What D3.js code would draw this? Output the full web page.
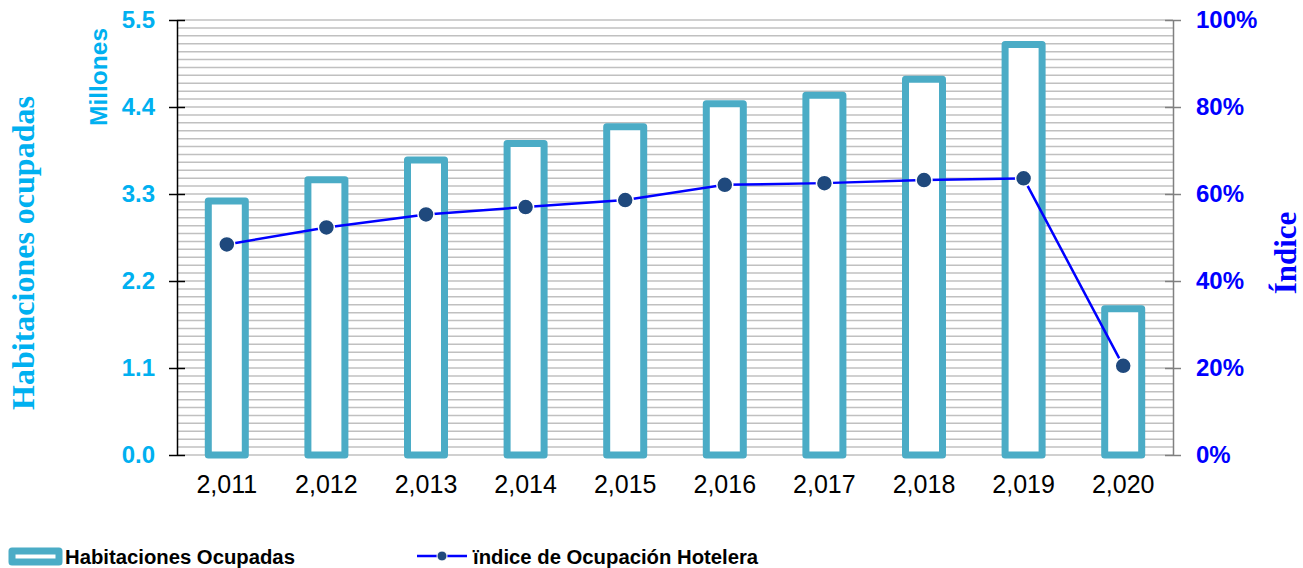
<!DOCTYPE html>
<html>
<head>
<meta charset="utf-8">
<script src="https://cdn.jsdelivr.net/npm/d3@7"></script>
<style>
	body { margin: 0; background: #fff; }
	svg { display: block; font-family: 'Liberation Sans', Arial, sans-serif; }
</style>
</head>
<body>
<svg id="chart"></svg>
<script>
const width = 1303, height = 568;

// values
const years = [2011, 2012, 2013, 2014, 2015, 2016, 2017, 2018, 2019, 2020];
const habitaciones = [3.21, 3.48, 3.73, 3.94, 4.15, 4.44, 4.55, 4.75, 5.19, 1.85]; // millones
const indice = [0.484, 0.523, 0.553, 0.570, 0.586, 0.621, 0.625, 0.632, 0.636, 0.205];
const leftTicks = [0, 1.1, 2.2, 3.3, 4.4, 5.5];
const rightTicks = [0, 0.2, 0.4, 0.6, 0.8, 1.0];
const gridStep = 0.1;

const colors = {
	bar: '#4bacc6',
	line: '#0000ff',
	marker: '#1f497d',
	leftText: '#00b0f0',
	rightText: '#0000ff',
	grid: '#c0c0c0'
};

const plot = { left: 177, right: 1173, top: 20, bottom: 455 };

const svg = d3.select('#chart').attr('width', width).attr('height', height);

const x = d3.scaleBand().domain(years).range([plot.left, plot.right]);
const yLeft = d3.scaleLinear().domain([0, 5.5]).range([plot.bottom, plot.top]);
const yRight = d3.scaleLinear().domain([0, 1]).range([plot.bottom, plot.top]);

// minor gridlines every 0.1
const gridValues = d3.range(0, 5.5 + 1e-9, gridStep);
svg.append('g')
	.selectAll('line')
	.data(gridValues)
	.enter()
	.append('line')
	.attr('x1', plot.left)
	.attr('x2', plot.right)
	.attr('y1', d => yLeft(d))
	.attr('y2', d => yLeft(d))
	.style('stroke', colors.grid)
	.style('stroke-width', 1.5);

// bars (outlined)
const barStroke = 7, barWidth = 37;
svg.append('g')
	.selectAll('rect')
	.data(habitaciones)
	.enter()
	.append('rect')
	.attr('x', (d, i) => x(years[i]) + x.bandwidth() / 2 - barWidth / 2)
	.attr('y', d => yLeft(d))
	.attr('width', barWidth)
	.attr('height', d => yLeft(0) - yLeft(d))
	.style('fill', '#fff')
	.style('stroke', colors.bar)
	.style('stroke-width', barStroke)
	.style('stroke-linejoin', 'round');

// left axis
const leftAxis = svg.append('g')
	.attr('transform', `translate(${plot.left},0)`)
	.call(d3.axisLeft(yLeft).tickValues(leftTicks).tickFormat(d3.format('.1f')).tickSizeInner(8).tickSizeOuter(0).tickPadding(14));
leftAxis.select('.domain').style('stroke', '#000').style('stroke-width', 1.5);
leftAxis.selectAll('.tick line').attr('x1', 8).style('stroke', '#000').style('stroke-width', 1.5);
leftAxis.selectAll('.tick text')
	.style('font-family', "'Liberation Sans', Arial, sans-serif")
	.style('font-size', '24px')
	.style('font-weight', 'bold')
	.style('fill', colors.leftText);

// right axis
const rightAxis = svg.append('g')
	.attr('transform', `translate(${plot.right},0)`)
	.call(d3.axisRight(yRight).tickValues(rightTicks).tickFormat(d3.format('.0%')).tickSizeInner(8).tickSizeOuter(0).tickPadding(15));
rightAxis.select('.domain').style('stroke', '#808080').style('stroke-width', 1.5);
rightAxis.selectAll('.tick line').attr('x1', -8).style('stroke', '#808080').style('stroke-width', 1.5);
rightAxis.selectAll('.tick text')
	.style('font-family', "'Liberation Sans', Arial, sans-serif")
	.style('font-size', '24px')
	.style('font-weight', 'bold')
	.style('fill', colors.rightText);

// bottom category labels
const bottomAxis = svg.append('g')
	.attr('transform', `translate(0,${plot.bottom})`)
	.call(d3.axisBottom(x).tickFormat(d3.format(',')).tickSize(0).tickPadding(20));
bottomAxis.select('.domain').remove();
bottomAxis.selectAll('.tick text')
	.style('font-family', "'Liberation Sans', Arial, sans-serif")
	.style('font-size', '25px')
	.style('fill', '#000');

// index line
const lineGen = d3.line()
	.x((d, i) => x(years[i]) + x.bandwidth() / 2)
	.y(d => yRight(d));
svg.append('path')
	.datum(indice)
	.attr('d', lineGen)
	.style('fill', 'none')
	.style('stroke', colors.line)
	.style('stroke-width', 2.5);
svg.append('g')
	.selectAll('circle')
	.data(indice)
	.enter()
	.append('circle')
	.attr('cx', (d, i) => x(years[i]) + x.bandwidth() / 2)
	.attr('cy', d => yRight(d))
	.attr('r', 8)
	.style('fill', colors.marker)
	.style('stroke', '#fff')
	.style('stroke-width', 1.5);

// axis titles
svg.append('text')
	.attr('transform', 'translate(34,253) rotate(-90)')
	.attr('text-anchor', 'middle')
	.style('font-family', "'Liberation Serif', 'Times New Roman', serif")
	.style('font-size', '32px')
	.style('font-weight', 'bold')
	.style('fill', colors.leftText)
	.text('Habitaciones ocupadas');
svg.append('text')
	.attr('transform', 'translate(107,77) rotate(-90)')
	.attr('text-anchor', 'middle')
	.style('font-size', '24.5px')
	.style('font-weight', 'bold')
	.style('fill', colors.leftText)
	.text('Millones');
svg.append('text')
	.attr('transform', 'translate(1296,253) rotate(-90)')
	.attr('text-anchor', 'middle')
	.style('font-family', "'Liberation Serif', 'Times New Roman', serif")
	.style('font-size', '31px')
	.style('font-weight', 'bold')
	.style('fill', colors.rightText)
	.text('Índice');

// legend
const legend = svg.append('g');
legend.append('rect')
	.attr('x', 12).attr('y', 551)
	.attr('width', 47).attr('height', 11)
	.style('fill', '#fff')
	.style('stroke', colors.bar)
	.style('stroke-width', 7)
	.style('stroke-linejoin', 'round');
legend.append('text')
	.attr('x', 65).attr('y', 564)
	.style('font-size', '20.3px')
	.style('font-weight', 'bold')
	.style('fill', '#000')
	.text('Habitaciones Ocupadas');
legend.append('line')
	.attr('x1', 417).attr('x2', 467)
	.attr('y1', 556).attr('y2', 556)
	.style('stroke', colors.line)
	.style('stroke-width', 2.5);
legend.append('circle')
	.attr('cx', 442).attr('cy', 556).attr('r', 5)
	.style('fill', colors.marker)
	.style('stroke', '#fff')
	.style('stroke-width', 1);
legend.append('text')
	.attr('x', 473).attr('y', 564)
	.style('font-size', '20.3px')
	.style('font-weight', 'bold')
	.style('fill', '#000')
	.text('ïndice de Ocupación Hotelera');
</script>
</body>
</html>
